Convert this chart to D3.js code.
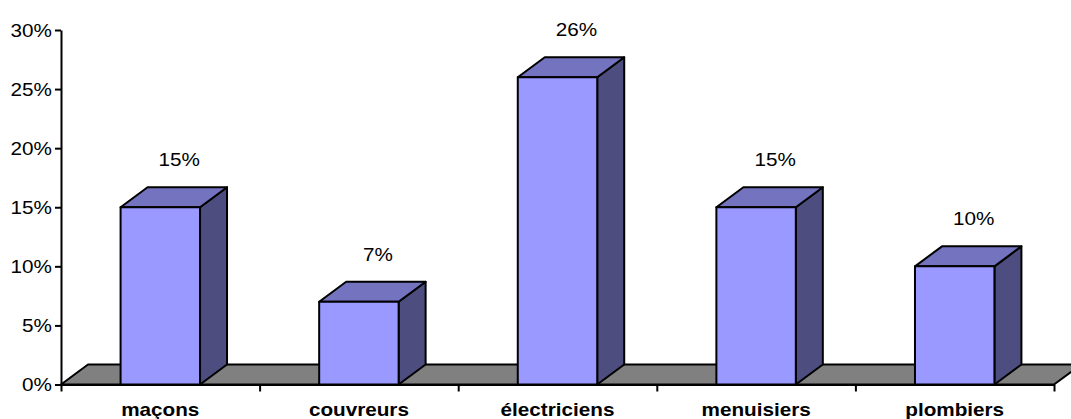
<!DOCTYPE html>
<html>
<head>
<meta charset="utf-8">
<script src="https://cdn.jsdelivr.net/npm/d3@7"></script>
<style>
  body { margin: 0; background: #fff; }
  text { font-family: Arial, "Liberation Sans", sans-serif; }
</style>
</head>
<body>
<div id="chart"></div>
<script>
// data
const categories = ["maçons", "couvreurs", "électriciens", "menuisiers", "plombiers"];
const values = [15, 7, 26, 15, 10];
const yTicks = [0, 5, 10, 15, 20, 25, 30];

// Set dimensions
const W = 1071, H = 419;
const plot = { left: 61, right: 1054, top: 30, bottom: 384.5 };
const depth = { dx: 27, dy: -20 };   // 3d offset
const stretch = 1.15;                 // text looks horizontally stretched
const fontSize = "18px";

const svg = d3.select("#chart")
  .append("svg")
    .attr("width", W)
    .attr("height", H);

const x = d3.scaleBand()
  .domain(categories)
  .range([plot.left, plot.right])
  .paddingInner(0.6)
  .paddingOuter(0.3);

const xEdge = d3.scaleLinear()
  .domain([0, categories.length])
  .range([plot.left, plot.right]);

const y = d3.scaleLinear()
  .domain([0, 30])
  .range([plot.bottom, plot.top]);

// floor
svg.append("path")
  .attr("d", `M${plot.left},${plot.bottom} L${plot.right},${plot.bottom} L${plot.right + depth.dx},${plot.bottom + depth.dy} L${plot.left + depth.dx},${plot.bottom + depth.dy} Z`)
  .attr("fill", "#808080")
  .attr("stroke", "#000")
  .attr("stroke-width", 2)
  .attr("stroke-linejoin", "round");

// bars
const bars = svg.selectAll(".bar")
  .data(values)
  .join("g")
    .attr("class", "bar");

bars.each(function(d, i) {
  const g = d3.select(this);
  const x0 = x(categories[i]), x1 = x0 + x.bandwidth();
  const y0 = y(0), y1 = y(d);
  // right side
  g.append("path")
    .attr("d", `M${x1},${y0} L${x1 + depth.dx},${y0 + depth.dy} L${x1 + depth.dx},${y1 + depth.dy} L${x1},${y1} Z`)
    .attr("fill", "#4d4d80");
  // top
  g.append("path")
    .attr("d", `M${x0},${y1} L${x0 + depth.dx},${y1 + depth.dy} L${x1 + depth.dx},${y1 + depth.dy} L${x1},${y1} Z`)
    .attr("fill", "#7373bf");
  // front
  g.append("rect")
    .attr("x", x0)
    .attr("y", y1)
    .attr("width", x.bandwidth())
    .attr("height", y0 - y1)
    .attr("fill", "#9999ff");
  g.selectAll("path, rect")
    .attr("stroke", "#000")
    .attr("stroke-width", 2)
    .attr("stroke-linejoin", "round");
});

// value labels
svg.selectAll(".value")
  .data(values)
  .join("text")
    .attr("class", "value")
    .attr("transform", (d, i) => `translate(${x(categories[i]) + x.bandwidth() / 2 + 19},${y(d) - 41}) scale(${stretch},1)`)
    .attr("text-anchor", "middle")
    .style("font-size", fontSize)
    .text(d => d + "%");

// y axis
const yAxis = svg.append("g")
  .attr("transform", `translate(${plot.left},0)`)
  .call(d3.axisLeft(y).tickValues(yTicks).tickSize(6).tickSizeOuter(0).tickFormat(d => d + "%"));
yAxis.select(".domain").attr("stroke-width", 2);
yAxis.selectAll(".tick line").attr("stroke-width", 2);
yAxis.selectAll(".tick text")
  .attr("x", -8)
  .attr("dy", "0.36em")
  .attr("transform", `scale(${stretch},1)`)
  .style("font-size", fontSize)
  .attr("fill", "#000");

// x axis (category boundaries)
const xAxis = svg.append("g")
  .attr("transform", `translate(0,${plot.bottom})`)
  .call(d3.axisBottom(xEdge).tickValues(d3.range(categories.length + 1)).tickSize(7).tickSizeOuter(0).tickFormat(""));
xAxis.select(".domain").attr("stroke-width", 2);
xAxis.selectAll(".tick line").attr("stroke-width", 2);

// category labels
svg.selectAll(".cat")
  .data(categories)
  .join("text")
    .attr("class", "cat")
    .attr("transform", d => `translate(${x(d) + x.bandwidth() / 2},416) scale(${stretch},1)`)
    .attr("text-anchor", "middle")
    .style("font-size", fontSize)
    .style("font-weight", "bold")
    .text(d => d);
</script>
</body>
</html>
